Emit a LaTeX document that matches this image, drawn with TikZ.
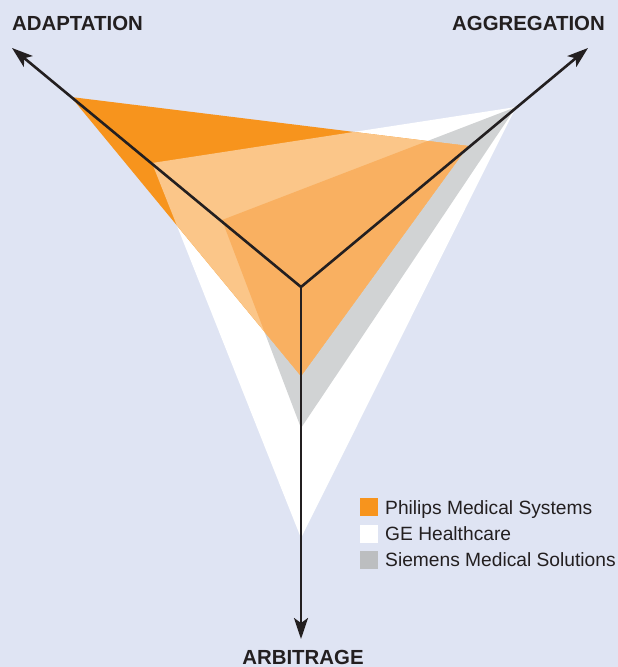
\documentclass[tikz,border=0pt]{standalone}
\usepackage{xcolor}
\usepackage{fontspec}
\setmainfont{Liberation Sans}
\usepackage{tikz}
\usetikzlibrary{arrows.meta}
\definecolor{bgblue}{RGB}{223, 228, 243}
\definecolor{philips}{RGB}{247, 148, 29}
\definecolor{philipslight}{RGB}{251, 198, 137}
\definecolor{philipsmid}{RGB}{249, 176, 97}
\definecolor{siemens}{RGB}{209, 211, 212}
\definecolor{siemenskey}{RGB}{188, 190, 192}
\definecolor{inkdark}{RGB}{35, 31, 32}

\tikzset{
    axisline/.style={draw=inkdark, line width=2.6pt, -{Stealth[length=21pt,width=14pt,inset=5pt]}},
    axislabel/.style={text=inkdark, font=\fontsize{20.4}{24}\selectfont\bfseries, inner sep=0pt},
    keybox/.style={minimum size=18pt, inner sep=0pt, anchor=north west},
    keylabel/.style={text=inkdark, font=\fontsize{19.2}{22}\selectfont, inner sep=0pt, anchor=base west}
}

\begin{document}
\begin{tikzpicture}[x=1pt, y=-1pt]
    \fill[bgblue] (0,0) rectangle (618,667);
    \useasboundingbox (0,0) rectangle (618,667);

    % axes
    \coordinate (hub) at (301,287);
    \coordinate (adapt) at (12,48);
    \coordinate (aggr) at (588,48);
    \coordinate (arbit) at (301,639);

    % vendor triangles
    \coordinate (ph1) at (71,97);
    \coordinate (ph2) at (468,146);
    \coordinate (ph3) at (301,376);
    \coordinate (ge1) at (152,163);
    \coordinate (ge2) at (516,107);
    \coordinate (ge3) at (301,538);
    \coordinate (si1) at (222,220);
    \coordinate (si2) at (516,107);
    \coordinate (si3) at (301,428);

    \fill[white] (ge1) -- (ge2) -- (ge3) -- cycle;
    \fill[siemens] (si1) -- (si2) -- (si3) -- cycle;
    \fill[philips] (ph1) -- (ph2) -- (ph3) -- cycle;
    \begin{scope}
        \clip (ph1) -- (ph2) -- (ph3) -- cycle;
        \fill[philipslight] (ge1) -- (ge2) -- (ge3) -- cycle;
        \fill[philipsmid] (si1) -- (si2) -- (si3) -- cycle;
    \end{scope}

    \draw[axisline] (hub) -- (adapt);
    \draw[axisline] (hub) -- (aggr);
    \draw[axisline] (hub) -- (arbit);

    \node[axislabel, anchor=base west] (adaptlbl) at (12,30) {ADAPTATION};
    \node[axislabel, anchor=base east] (aggrlbl) at (605,30) {AGGREGATION};
    \node[axislabel, anchor=base] (arbitlbl) at (303,664) {ARBITRAGE};

    % legend
    \node[keybox, fill=philips] (keyph) at (360,498) {};
    \node[keybox, fill=white] (keyge) at (360,525) {};
    \node[keybox, fill=siemenskey] (keysi) at (360,551) {};
    \node[keylabel] (lblph) at (385,514) {Philips Medical Systems};
    \node[keylabel] (lblge) at (385,540) {GE Healthcare};
    \node[keylabel] (lblsi) at (385,566) {Siemens Medical Solutions};
\end{tikzpicture}
\end{document}
